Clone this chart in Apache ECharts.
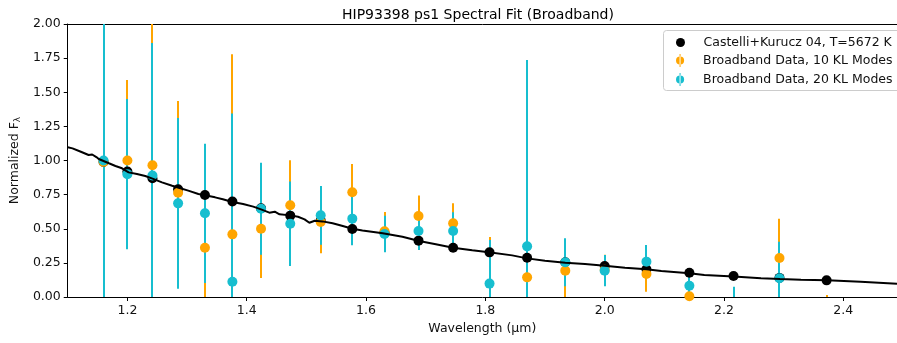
<!DOCTYPE html>
<html>
<head>
<meta charset="utf-8">
<script src="https://cdn.jsdelivr.net/npm/echarts@6/dist/echarts.min.js"></script>
<style>
    html, body { margin: 0; padding: 0; background: #fff; }
    #chart { width: 897px; height: 343px; }
</style>
</head>
<body>
<div id="chart"></div>
<script>
// band centres (micron)
const bandWave = [1.160, 1.200, 1.242, 1.285, 1.330, 1.376, 1.424, 1.473, 1.524, 1.577, 1.631,
                  1.688, 1.746, 1.807, 1.870, 1.934, 2.000, 2.070, 2.142, 2.216, 2.293, 2.372];
// model flux sampled at the bands
const modelAtBand = [0.99, 0.92, 0.87, 0.79, 0.747, 0.70, 0.65, 0.596, 0.56, 0.498, 0.47,
                     0.413, 0.361, 0.327, 0.288, 0.255, 0.227, 0.203, 0.178, 0.154, 0.14, 0.122];
// broadband data, 10 KL modes
const kl10Flux = [0.99, 1.00, 0.965, 0.764, 0.361, 0.459, 0.50, 0.672, 0.55, 0.767, 0.481,
                  0.593, 0.54, -0.10, 0.144, 0.193, 0.20, 0.168, 0.005, -0.25, 0.286, -0.10];
const kl10Err = [0.60, 0.59, 1.10, 0.672, 0.45, 1.32, 0.36, 0.33, 0.23, 0.207, 0.142,
                 0.15, 0.146, 0.54, 0.30, 0.22, 0.11, 0.13, 0.02, 0.20, 0.288, 0.115];
// broadband data, 20 KL modes
const kl20Flux = [1.00, 0.90, 0.89, 0.686, 0.613, 0.112, 0.647, 0.537, 0.598, 0.574, 0.461,
                  0.483, 0.483, 0.098, 0.371, 0.254, 0.193, 0.259, 0.083, -0.10, 0.137, -0.20];
const kl20Err = [1.10, 0.55, 0.97, 0.625, 0.51, 1.233, 0.337, 0.31, 0.215, 0.194, 0.134,
                 0.139, 0.137, 0.32, 1.365, 0.176, 0.115, 0.122, 0.087, 0.176, 0.268, 0.15];
// model spectrum (Castelli+Kurucz 04)
const modelWave = [1.100, 1.108, 1.122, 1.135, 1.141, 1.148, 1.152, 1.169, 1.180, 1.191, 1.202, 1.216, 1.230,
                   1.242, 1.258, 1.275, 1.286, 1.302, 1.319, 1.330, 1.347, 1.360, 1.376, 1.394,
                   1.411, 1.424, 1.438, 1.447, 1.455, 1.473, 1.486, 1.497, 1.505, 1.514, 1.527,
                   1.544, 1.561, 1.577, 1.594, 1.628, 1.661, 1.689, 1.717, 1.746, 1.778, 1.806,
                   1.845, 1.870, 1.900, 1.934, 1.967, 2.000, 2.034, 2.070, 2.095, 2.142, 2.167,
                   2.216, 2.262, 2.294, 2.329, 2.373, 2.429, 2.490];
const modelFlux = [1.097, 1.089, 1.064, 1.040, 1.044, 1.025, 1.011, 0.980, 0.960, 0.943, 0.913, 0.901, 0.886,
                   0.867, 0.840, 0.815, 0.800, 0.779, 0.755, 0.745, 0.730, 0.716, 0.696, 0.681,
                   0.662, 0.642, 0.618, 0.625, 0.606, 0.598, 0.588, 0.569, 0.544, 0.559, 0.554,
                   0.540, 0.520, 0.500, 0.488, 0.467, 0.442, 0.410, 0.386, 0.361, 0.342, 0.327,
                   0.305, 0.283, 0.266, 0.251, 0.242, 0.229, 0.215, 0.203, 0.190, 0.174, 0.161,
                   0.151, 0.137, 0.132, 0.127, 0.122, 0.112, 0.097];
const xTicks = [1.2, 1.4, 1.6, 1.8, 2.0, 2.2, 2.4];

const X_MIN = 1.1, X_MAX = 2.49, Y_MIN = 0, Y_MAX = 2;
const FONT = 'DejaVu Sans';
const ORANGE = '#ffa500', CYAN = '#17becf';
const NAME_MODEL = 'Castelli+Kurucz 04, T=5672 K';
const NAME_10 = 'Broadband Data, 10 KL Modes';
const NAME_20 = 'Broadband Data, 20 KL Modes';

const chart = echarts.init(document.getElementById('chart'));

//误差棒
function errBars(name, flux, err, color){
    return {
        type: 'custom',
        name: name,
        clip: true,
        data: bandWave.map((w, i) => [w, flux[i], err[i]]),
        encode: { x: 0, y: 1 },
        renderItem: function(params, api){
            const x = api.value(0), y = api.value(1), e = api.value(2);
            const lo = Math.max(Y_MIN, y - e), hi = Math.min(Y_MAX, y + e);
            if (hi <= lo) return null;
            const p1 = api.coord([x, lo]), p2 = api.coord([x, hi]);
            const px = Math.round(p1[0]);
            return {
                type: 'line',
                shape: { x1: px, y1: p1[1], x2: px, y2: p2[1] },
                style: { stroke: color, lineWidth: 2 }
            };
        }
    };
}

function dots(name, flux, color){
    return {
        type: 'scatter',
        name: name,
        clip: true,
        symbol: 'circle',
        symbolSize: 10,
        itemStyle: { color: color, opacity: 1 },
        data: bandWave.map((w, i) => [w, flux[i]])
    };
}

const errIcon = 'path://M4.4,0h1.2v16h-1.2z M0,8a5,5 0 1,0 10,0a5,5 0 1,0 -10,0z';
const legendText = { fontFamily: FONT, fontSize: 12.5, lineHeight: 15, color: '#111', padding: [0, 0, 0, 1] };

chart.setOption({
    animation: false,
    title: {
        text: 'HIP93398 ps1 Spectral Fit (Broadband)',
        left: 337,
        top: 3,
        textStyle: { fontFamily: FONT, fontSize: 14, fontWeight: 'normal', color: '#000' }
    },
    graphic: [{
        type: 'rect',
        z: 10,
        shape: { x: 663.5, y: 30.5, width: 250, height: 60, r: 3 },
        style: { fill: '#fff', stroke: '#cccccc', lineWidth: 1 }
    }],
    legend: [{
        orient: 'vertical',
        left: 676,
        top: 35,
        padding: 0,
        z: 11,
        itemWidth: 34,
        itemHeight: 9,
        textStyle: legendText,
        data: [{ name: NAME_MODEL, icon: 'circle' }]
    }, {
        orient: 'vertical',
        left: 676,
        top: 53,
        padding: 0,
        z: 11,
        itemWidth: 34,
        itemHeight: 13,
        itemGap: 4,
        textStyle: legendText,
        data: [{ name: NAME_10, icon: errIcon }, { name: NAME_20, icon: errIcon }]
    }],
    grid: { left: 63, right: 0, top: 24, bottom: 46 },
    xAxis: [{
        type: 'value',
        min: X_MIN,
        max: X_MAX,
        name: 'Wavelength (μm)',
        nameLocation: 'middle',
        nameGap: 25,
        nameTextStyle: { fontFamily: FONT, fontSize: 12.5, color: '#111' },
        axisLine: { show: true, onZero: false, lineStyle: { color: '#000', width: 1 } },
        axisTick: { show: true, length: 4, customValues: xTicks, lineStyle: { color: '#000' } },
        axisLabel: {
            customValues: xTicks,
            margin: 7,
            fontFamily: FONT, fontSize: 12.5, color: '#111',
            formatter: v => v.toFixed(1)
        },
        splitLine: { show: false }
    }, {
        type: 'value',
        position: 'top',
        min: X_MIN,
        max: X_MAX,
        axisLine: { show: true, onZero: false, lineStyle: { color: '#000', width: 1 } },
        axisTick: { show: false },
        axisLabel: { show: false },
        splitLine: { show: false }
    }],
    yAxis: {
        type: 'value',
        min: Y_MIN,
        max: Y_MAX,
        interval: 0.25,
        name: 'Normalized F{sub|λ}',
        nameLocation: 'middle',
        nameRotate: 90,
        nameGap: 42,
        nameTextStyle: {
            fontFamily: FONT, fontSize: 12.5, color: '#111',
            rich: { sub: { fontFamily: FONT, fontSize: 9, color: '#111', verticalAlign: 'bottom', padding: [6, 0, 0, 0] } }
        },
        axisLine: { show: true, onZero: false, lineStyle: { color: '#000', width: 1 } },
        axisTick: { show: true, length: 4, lineStyle: { color: '#000' } },
        axisLabel: {
            margin: 7,
            fontFamily: FONT, fontSize: 12.5, color: '#111',
            formatter: v => v.toFixed(2)
        },
        splitLine: { show: false }
    },
    series: [
        dots(NAME_MODEL, modelAtBand, '#000'),
        {
            type: 'line',
            name: 'model',
            showSymbol: false,
            clip: true,
            lineStyle: { color: '#000', width: 2 },
            data: modelWave.map((w, i) => [w, modelFlux[i]])
        },
        errBars('bars10', kl10Flux, kl10Err, ORANGE),
        errBars('bars20', kl20Flux, kl20Err, CYAN),
        dots(NAME_10, kl10Flux, ORANGE),
        dots(NAME_20, kl20Flux, CYAN)
    ]
});
</script>
</body>
</html>
